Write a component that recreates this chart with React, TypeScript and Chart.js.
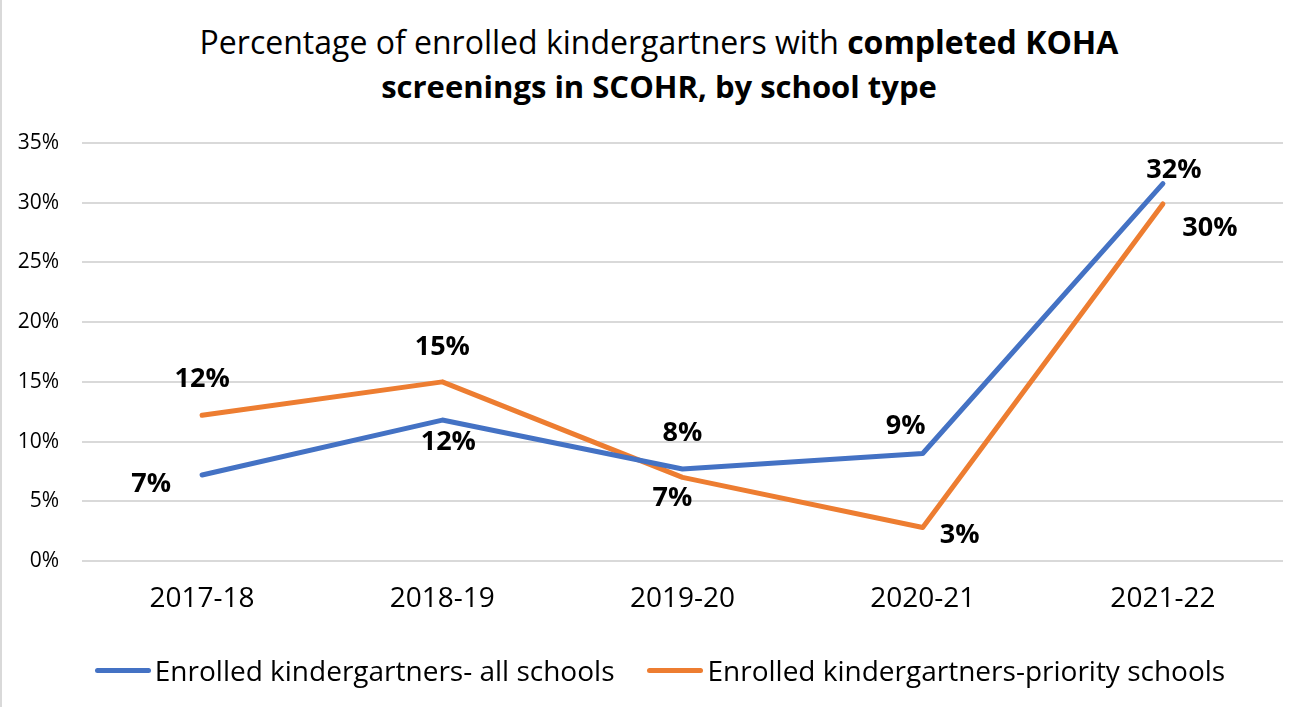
import React, { useEffect, useRef } from "react";
import { Chart, registerables } from "chart.js";

Chart.register(...registerables);

const categories = ["2017-18", "2018-19", "2019-20", "2020-21", "2021-22"];
const allSchools = [7.2, 11.8, 7.7, 9.0, 31.6];
const prioritySchools = [12.2, 15.0, 7.0, 2.8, 29.9];
const seriesNames = [
  "Enrolled kindergartners- all schools",
  "Enrolled kindergartners-priority schools",
];
const yTicks = [0, 5, 10, 15, 20, 25, 30, 35];

const BLUE = "#4472C4";
const ORANGE = "#ED7D31";
const FONT = "'Open Sans', Lato, sans-serif";

// label offsets (pixels, relative to each point) — styling only
const allOffsets = [
  [-51, 9],
  [6, 22],
  [0, -36],
  [-17, -27],
  [11, -13],
];
const priorityOffsets = [
  [0, -36],
  [0, -35],
  [-10, 21],
  [37, 8],
  [47, 24],
];

const dataLabelPlugin = {
  id: "dataLabels",
  afterDatasetsDraw(chart: any) {
    const ctx = chart.ctx;
    const offsets = [allOffsets, priorityOffsets];
    ctx.save();
    ctx.font = `bold 27px ${FONT}`;
    ctx.fillStyle = "#000";
    ctx.textAlign = "center";
    ctx.textBaseline = "middle";
    chart.data.datasets.forEach((ds: any, i: number) => {
      const meta = chart.getDatasetMeta(i);
      meta.data.forEach((pt: any, j: number) => {
        const v = ds.data[j];
        const off = offsets[i][j];
        ctx.fillText(Math.round(v) + "%", pt.x + off[0], pt.y + off[1]);
      });
    });
    ctx.restore();
  },
};

export default function App() {
  const ref = useRef<HTMLCanvasElement | null>(null);

  useEffect(() => {
    if (!ref.current) return;
    const chart = new Chart(ref.current, {
      type: "line",
      data: {
        labels: categories,
        datasets: [
          {
            label: seriesNames[0],
            data: allSchools,
            borderColor: BLUE,
            backgroundColor: BLUE,
            borderWidth: 5,
            pointRadius: 0,
            borderCapStyle: "round",
            borderJoinStyle: "round",
            tension: 0,
          },
          {
            label: seriesNames[1],
            data: prioritySchools,
            borderColor: ORANGE,
            backgroundColor: ORANGE,
            borderWidth: 5,
            pointRadius: 0,
            borderCapStyle: "round",
            borderJoinStyle: "round",
            tension: 0,
          },
        ],
      },
      options: {
        responsive: false,
        animation: false,
        layout: { padding: { left: 0, right: 29, top: 143, bottom: 46 } },
        plugins: {
          legend: { display: false },
          title: { display: false },
          tooltip: { enabled: false },
        },
        scales: {
          x: {
            type: "category",
            offset: true,
            grid: { display: false, drawTicks: false },
            border: { display: false },
            ticks: {
              font: { family: FONT, size: 28 },
              color: "#000",
              padding: 21,
              maxRotation: 0,
            },
            afterFit: (s: any) => {
              s.height = 100;
            },
          },
          y: {
            min: 0,
            max: 35,
            afterBuildTicks: (s: any) => {
              s.ticks = yTicks.map((v) => ({ value: v }));
            },
            grid: { color: "#d9d9d9", lineWidth: 2, drawTicks: false, tickLength: 0 },
            border: { display: false },
            ticks: {
              font: { family: FONT, size: 21 },
              color: "#000",
              padding: 23,
              callback: (v: any) => v + "%",
            },
            afterFit: (s: any) => {
              s.width = 82;
            },
          },
        },
      },
      plugins: [dataLabelPlugin],
    });
    return () => chart.destroy();
  }, []);

  return (
    <div
      style={{
        position: "fixed",
        left: 0,
        top: 0,
        width: 1312,
        height: 707,
        background: "#fff",
        fontFamily: FONT,
        color: "#000",
      }}
    >
      <div
        style={{
          position: "absolute",
          left: 0,
          top: 0,
          width: 2,
          height: 707,
          background: "#d9d9d9",
        }}
      />
      <div
        style={{
          position: "absolute",
          left: 6,
          top: 20,
          width: 1306,
          textAlign: "center",
          fontSize: 32,
          lineHeight: "44px",
        }}
      >
        <div>
          Percentage of enrolled kindergartners with <b>completed KOHA</b>
        </div>
        <div>
          <b style={{ fontSize: 31 }}>screenings in SCOHR, by school type</b>
        </div>
      </div>
      <canvas
        ref={ref}
        width={1312}
        height={707}
        style={{ position: "absolute", left: 0, top: 0 }}
      />
      <div
        style={{
          position: "absolute",
          left: 8,
          top: 650,
          width: 1304,
          height: 40,
          display: "flex",
          justifyContent: "center",
          alignItems: "center",
          fontSize: 28,
          whiteSpace: "nowrap",
        }}
      >
        {seriesNames.map((name, i) => (
          <div
            key={name}
            style={{
              display: "flex",
              alignItems: "center",
              marginLeft: i === 0 ? 0 : 33,
            }}
          >
            <span
              style={{
                display: "inline-block",
                width: 56,
                height: 5,
                borderRadius: 3,
                background: i === 0 ? BLUE : ORANGE,
                marginRight: 4,
              }}
            />
            <span>{name}</span>
          </div>
        ))}
      </div>
    </div>
  );
}
